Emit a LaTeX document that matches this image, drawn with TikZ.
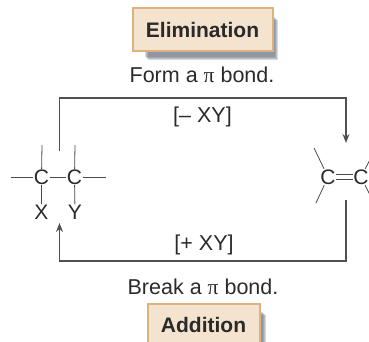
\documentclass[tikz,border=0pt]{standalone}
\usepackage{fontspec}
\setmainfont{Liberation Sans}
\newfontfamily\piserif{Liberation Serif}
\usetikzlibrary{arrows.meta,shadows}
\definecolor{boxfill}{HTML}{F3E3CF}
\definecolor{boxedge}{HTML}{DDB27F}
\definecolor{inkdark}{HTML}{2A2A2A}
\definecolor{flowline}{HTML}{505050}
\definecolor{shade}{HTML}{5F6878}
\newcommand{\pisym}{{\piserif π}}
\tikzset{
 softshade/.style={general shadow={shadow xshift=#1,shadow yshift=-#1,fill=shade,draw=none,opacity=0.25,shadow scale=0.93}},
 titlebox/.style={draw=boxedge,fill=boxfill,line width=2pt,text=inkdark,font=\bfseries\fontsize{21}{24}\selectfont,minimum height=43pt,inner sep=0pt,
  softshade=11pt,softshade=10pt,softshade=9pt,softshade=8pt},
 label/.style={text=inkdark,font=\fontsize{21.5}{25}\selectfont,inner sep=0pt},
 atom/.style={text=inkdark,font=\fontsize{21}{24}\selectfont,inner sep=0.5pt},
 bond/.style={draw=inkdark!85,line width=0.8pt},
 flow/.style={draw=flowline,line width=1.15pt},
 flowtip/.style={flow,-{Stealth[length=9pt,width=7pt]}}
}
\begin{document}
\begin{tikzpicture}[x=1pt,y=-1pt]
 \useasboundingbox (0,0) rectangle (369,342);
 \clip (0,0) rectangle (369,342);
 \node[titlebox,minimum width=140pt] (elim) at (202.5,30) {Elimination};
 \node[label] (form) at (202,75) {Form a \pisym\ bond.};
 \node[titlebox,minimum width=112pt] (addn) at (203.5,325) {Addition};
 \node[label] (brk) at (203,287) {Break a \pisym\ bond.};
 \node[label] (minus) at (202.5,117) {[– XY]};
 \node[label] (plus) at (204,245) {[+ XY]};
 % saturated side
 \node[atom] (cl) at (41.5,177) {C};
 \node[atom] (cr) at (74.5,177) {C};
 \node[atom] (xa) at (41.5,212) {X};
 \node[atom] (ya) at (75,212) {Y};
 \coordinate (clw) at (11,177);
 \coordinate (cre) at (106,177);
 \coordinate (cln) at (42,145);
 \coordinate (crn) at (75,145);
 \draw[bond] (clw) -- (cl);
 \draw[bond] (cl) -- (cr);
 \draw[bond] (cr) -- (cre);
 \draw[bond] (cln) -- (cl);
 \draw[bond] (crn) -- (cr);
 \draw[bond] (cl) -- (xa);
 \draw[bond] (cr) -- (ya);
 % alkene side
 \node[atom] (cp) at (328,177) {C};
 \node[atom] (cq) at (361,177) {C};
 \coordinate (cpa) at (314,148);
 \coordinate (cpb) at (316,203);
 \coordinate (cqa) at (376,148);
 \coordinate (cqb) at (374,203);
 \draw[bond] (cpa) -- (cp);
 \draw[bond] (cpb) -- (cp);
 \draw[bond] (cqa) -- (cq);
 \draw[bond] (cqb) -- (cq);
 \draw[bond] ([yshift=-2.2pt]cp.east) -- ([yshift=-2.2pt]cq.west);
 \draw[bond] ([yshift=2.2pt]cp.east) -- ([yshift=2.2pt]cq.west);
 % cycle
 \coordinate (topa) at (59.5,151);
 \coordinate (topb) at (59.5,98);
 \coordinate (topc) at (346,98);
 \coordinate (topd) at (346,143);
 \coordinate (bota) at (346,200);
 \coordinate (botb) at (346,261);
 \coordinate (botc) at (59.5,261);
 \coordinate (botd) at (59.5,223);
 \draw[flowtip] (topa) -- (topb) -- (topc) -- (topd);
 \draw[flowtip] (bota) -- (botb) -- (botc) -- (botd);
\end{tikzpicture}
\end{document}
